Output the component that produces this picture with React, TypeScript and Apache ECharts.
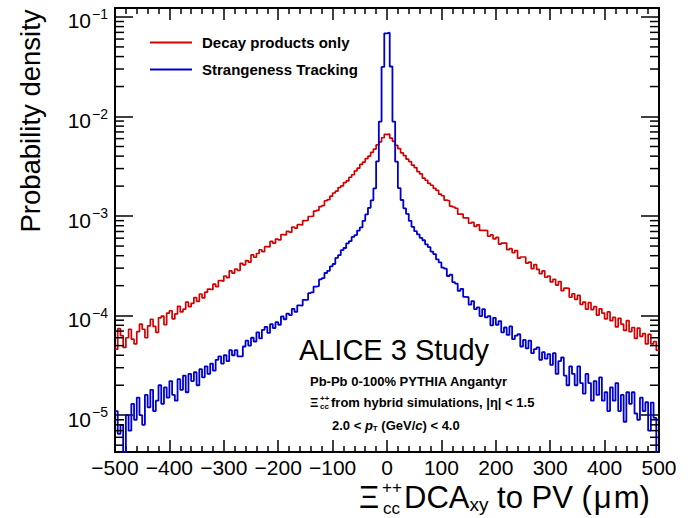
import React, { useEffect, useRef } from 'react';
import * as echarts from 'echarts';

const FONT = '"Liberation Sans", Arial, Helvetica, sans-serif';

// ---- axes / binning ----
const X_MIN = -500;
const X_MAX = 500;
const X_TICK_STEP = 100;
const BIN_WIDTH = 5;
const Y_MIN = 4.27e-6;
const Y_MAX = 0.123;
const DENSITY_UNIT = 1e-6; // arrays below are in units of 1e-6

const seriesNames = ['Decay products only', 'Strangeness Tracking'];

// probability density per 5 um bin, from -500 to +500 (x 1e-6)
const decayProductsOnly = [
  46, 74, 63, 48, 60, 73, 58, 52, 69, 82,
  73, 60, 79, 92, 78, 68, 95, 99, 81, 106,
  112, 93, 104, 124, 109, 116, 137, 123, 133, 152,
  139, 165, 151, 172, 185, 182, 207, 196, 225, 222,
  250, 241, 281, 267, 294, 284, 335, 324, 357, 345,
  407, 386, 421, 459, 439, 493, 491, 557, 534, 587,
  577, 652, 646, 701, 689, 777, 756, 820, 813, 899,
  907, 990, 997, 1122, 1141, 1246, 1274, 1426, 1461, 1586,
  1705, 1780, 1935, 2010, 2170, 2255, 2455, 2600, 2850, 3030,
  3300, 3490, 3780, 4010, 4370, 4710, 5180, 5570, 6120, 6620,
  6650, 6070, 5620, 5130, 4750, 4320, 4050, 3730, 3530, 3250,
  3070, 2800, 2650, 2410, 2290, 2130, 2040, 1900, 1815, 1665,
  1601, 1446, 1426, 1261, 1234, 1199, 1045, 1049, 961, 962,
  847, 863, 788, 817, 718, 717, 715, 627, 646, 589,
  610, 523, 536, 536, 460, 471, 428, 450, 378, 388,
  388, 337, 344, 297, 326, 291, 264, 281, 243, 250,
  218, 232, 203, 220, 178, 189, 188, 153, 166, 146,
  160, 130, 137, 116, 135, 115, 123, 101, 117, 106,
  93, 109, 89, 96, 77, 94, 82, 71, 89, 69,
  76, 59, 75, 62, 66, 52, 65, 52, 55, 45,
];

const strangenessTracking = [
  11, 6.5, 8, 3.5, 10, 7, 13, 9, 15, 10,
  8, 16, 12, 18, 11, 14, 20, 13, 19, 15,
  22, 16, 14, 23, 18, 25, 17, 26, 22, 27,
  20, 29, 24, 31, 26, 33, 28, 36, 39, 33,
  40, 35, 45, 40, 45, 39, 39, 49, 56, 50,
  60, 55, 68, 59, 72, 77, 67, 82, 75, 86,
  81, 98, 92, 105, 101, 117, 109, 127, 126, 144,
  144, 168, 171, 196, 198, 231, 238, 268, 282, 312,
  330, 380, 405, 455, 478, 532, 560, 618, 645, 715,
  770, 895, 1040, 1210, 1440, 1900, 3550, 8900, 31500, 68500,
  69500, 31800, 8900, 3520, 1910, 1450, 1195, 1050, 895, 780,
  705, 655, 605, 572, 520, 488, 440, 415, 368, 342,
  303, 296, 250, 258, 217, 210, 177, 186, 154, 153,
  129, 140, 116, 121, 99, 116, 96, 99, 80, 95,
  81, 88, 68, 76, 64, 78, 58, 63, 65, 49,
  57, 47, 56, 42, 46, 48, 36, 43, 37, 41,
  32, 42, 26, 35, 38, 25, 20, 31, 26, 20,
  31, 21, 16.5, 26, 21, 14, 22, 16, 24, 14,
  17, 11, 19, 14, 21, 11, 16, 8.6, 17, 13,
  17, 10.4, 9, 15, 11, 13.5, 7, 13.4, 9.4, 3.2,
];

// minor ticks of the log axis (2..9 x 10^n)
const minorDecades = [1e-6, 1e-5, 1e-4, 1e-3, 1e-2];
const minorMultipliers = [2, 3, 4, 5, 6, 7, 8, 9];

const RED = '#d40000';
const BLUE = '#0000cc';

function toSteps(vals: number[]) {
  const pts: number[][] = vals.map((v, i) => [X_MIN + i * BIN_WIDTH, v * DENSITY_UNIT]);
  pts.push([X_MAX, vals[vals.length - 1] * DENSITY_UNIT]);
  return pts;
}

function buildOption() {
  const minorTicks: number[][] = [];
  minorDecades.forEach((d) =>
    minorMultipliers.forEach((m) => {
      const v = m * d;
      if (v > Y_MIN && v < Y_MAX) minorTicks.push([X_MIN, v]);
    })
  );

  const black = '#000';
  const txt = (extra: any) => ({ fontFamily: FONT, fill: black, ...extra });

  const xAxisCommon = {
    type: 'value',
    min: X_MIN,
    max: X_MAX,
    interval: X_TICK_STEP,
    splitLine: { show: false },
    axisLine: { show: true, onZero: false, lineStyle: { color: black, width: 2 } },
    axisTick: { show: true, inside: true, length: 12, lineStyle: { color: black, width: 1.5 } },
    minorTick: { show: true, splitNumber: 5, length: 6, lineStyle: { color: black, width: 1.5 } },
  };
  const yAxisCommon = {
    type: 'log',
    logBase: 10,
    min: Y_MIN,
    max: Y_MAX,
    splitLine: { show: false },
    axisLine: { show: true, onZero: false, lineStyle: { color: black, width: 2 } },
    axisTick: { show: true, inside: true, length: 18, lineStyle: { color: black, width: 1.5 } },
  };

  return {
    animation: false,
    backgroundColor: '#fff',
    grid: { left: 115, top: 8, width: 544, height: 444, containLabel: false },
    legend: {
      show: true,
      left: 145,
      top: 30,
      orient: 'vertical',
      icon: 'rect',
      itemWidth: 42,
      itemHeight: 2,
      itemGap: 12,
      selectedMode: false,
      textStyle: { fontSize: 15, fontWeight: 'bold', fontFamily: FONT, color: '#000', lineHeight: 14, padding: [0, 0, 0, 5] },
      data: seriesNames,
    },
    xAxis: [
      {
        ...xAxisCommon,
        position: 'bottom',
        axisLabel: {
          show: true,
          margin: 5,
          fontSize: 21,
          fontFamily: FONT,
          color: black,
          formatter: (v: number) => (v < 0 ? '\u2212' + -v : String(v)),
        },
      },
      { ...xAxisCommon, position: 'top', axisLabel: { show: false } },
    ],
    yAxis: [
      {
        ...yAxisCommon,
        position: 'left',
        axisLabel: {
          show: true,
          margin: 7,
          showMinLabel: false,
          showMaxLabel: false,
          formatter: (v: number) => {
            const l = Math.log10(v);
            const e = Math.round(l);
            if (Math.abs(l - e) > 1e-6) return '';
            return `{b|10}{s|\u2212${-e}}`;
          },
          rich: {
            b: { fontSize: 21, fontFamily: FONT, color: black, padding: [8, 0, 0, 0] },
            s: { fontSize: 14, fontFamily: FONT, color: black, padding: [0, 0, 6, 1] },
          },
        },
      },
      { ...yAxisCommon, position: 'right', axisLabel: { show: false } },
    ],
    series: [
      {
        name: seriesNames[0],
        type: 'line',
        step: 'end',
        data: toSteps(decayProductsOnly),
        showSymbol: false,
        symbol: 'none',
        clip: true,
        lineStyle: { color: RED, width: 1.7 },
        itemStyle: { color: RED },
        z: 3,
      },
      {
        name: seriesNames[1],
        type: 'line',
        step: 'end',
        data: toSteps(strangenessTracking),
        showSymbol: false,
        symbol: 'none',
        clip: true,
        lineStyle: { color: BLUE, width: 1.8 },
        itemStyle: { color: BLUE },
        z: 4,
      },
      {
        type: 'custom',
        name: 'minorTicks',
        silent: true,
        clip: false,
        data: minorTicks,
        renderItem: (_p: any, api: any) => {
          const v = api.value(1);
          const l = api.coord([X_MIN, v]);
          const r = api.coord([X_MAX, v]);
          const st = { stroke: black, lineWidth: 1.5 };
          return {
            type: 'group',
            children: [
              { type: 'line', shape: { x1: l[0], y1: l[1], x2: l[0] + 9, y2: l[1] }, style: st },
              { type: 'line', shape: { x1: r[0], y1: r[1], x2: r[0] - 9, y2: r[1] }, style: st },
            ],
          };
        },
        z: 5,
      },
    ],
    graphic: [
      {
        type: 'text',
        x: 30,
        y: 121,
        rotation: Math.PI / 2,
        style: txt({ text: 'Probability density', fontSize: 27.5, align: 'center', verticalAlign: 'middle' }),
      },
      // x axis title
      { type: 'text', x: 359, y: 497, style: txt({ text: '\u039E', fontSize: 31, align: 'left', verticalAlign: 'middle' }) },
      { type: 'text', x: 382, y: 487, style: txt({ text: '++', fontSize: 17, align: 'left', verticalAlign: 'middle' }) },
      { type: 'text', x: 383, y: 508, style: txt({ text: 'cc', fontSize: 17, align: 'left', verticalAlign: 'middle' }) },
      {
        type: 'text',
        x: 404,
        y: 497,
        style: txt({
          text: '{b|DCA}{s|xy}{b| to PV (}{m|\u03BC}{b|m)}',
          align: 'left',
          verticalAlign: 'middle',
          rich: {
            b: { fontSize: 31, fontFamily: FONT, fill: black },
            m: { fontSize: 31, fontFamily: FONT, fill: black, padding: [0, 2, 0, 2] },
            s: { fontSize: 19, fontFamily: FONT, fill: black, padding: [14, 0, 0, 0] },
          },
        }),
      },
      // labels in the plot
      { type: 'text', x: 394, y: 350, style: txt({ text: 'ALICE 3 Study', fontSize: 29, align: 'center', verticalAlign: 'middle' }) },
      {
        type: 'text',
        x: 310,
        y: 381,
        style: txt({ text: 'Pb-Pb 0-100% PYTHIA Angantyr', fontSize: 13, fontWeight: 'bold', align: 'left', verticalAlign: 'middle' }),
      },
      { type: 'text', x: 310, y: 402, style: txt({ text: '\u039E', fontSize: 13, fontWeight: 'bold', align: 'left', verticalAlign: 'middle' }) },
      { type: 'text', x: 320, y: 398, style: txt({ text: '++', fontSize: 8, fontWeight: 'bold', align: 'left', verticalAlign: 'middle' }) },
      { type: 'text', x: 320, y: 406, style: txt({ text: 'cc', fontSize: 8, fontWeight: 'bold', align: 'left', verticalAlign: 'middle' }) },
      {
        type: 'text',
        x: 331,
        y: 402,
        style: txt({ text: 'from hybrid simulations, |\u03B7| < 1.5', fontSize: 13, fontWeight: 'bold', align: 'left', verticalAlign: 'middle' }),
      },
      {
        type: 'text',
        x: 332,
        y: 425,
        style: txt({
          text: '{t|2.0 < }{i|p}{s|T}{t| (GeV/}{i|c}{t|) < 4.0}',
          align: 'left',
          verticalAlign: 'middle',
          rich: {
            t: { fontSize: 13, fontWeight: 'bold', fontFamily: FONT, fill: black },
            i: { fontSize: 13, fontWeight: 'bold', fontStyle: 'italic', fontFamily: FONT, fill: black },
            s: { fontSize: 8, fontWeight: 'bold', fontFamily: FONT, fill: black, padding: [7, 0, 0, 0] },
          },
        }),
      },
    ],
  };
}

export default function App() {
  const ref = useRef<HTMLDivElement>(null);
  useEffect(() => {
    if (!ref.current) return;
    const chart = echarts.init(ref.current, undefined, { renderer: 'svg' });
    chart.setOption(buildOption() as any);
    return () => chart.dispose();
  }, []);
  return <div ref={ref} style={{ position: 'absolute', left: 0, top: 0, width: 690, height: 518, background: '#fff' }} />;
}
